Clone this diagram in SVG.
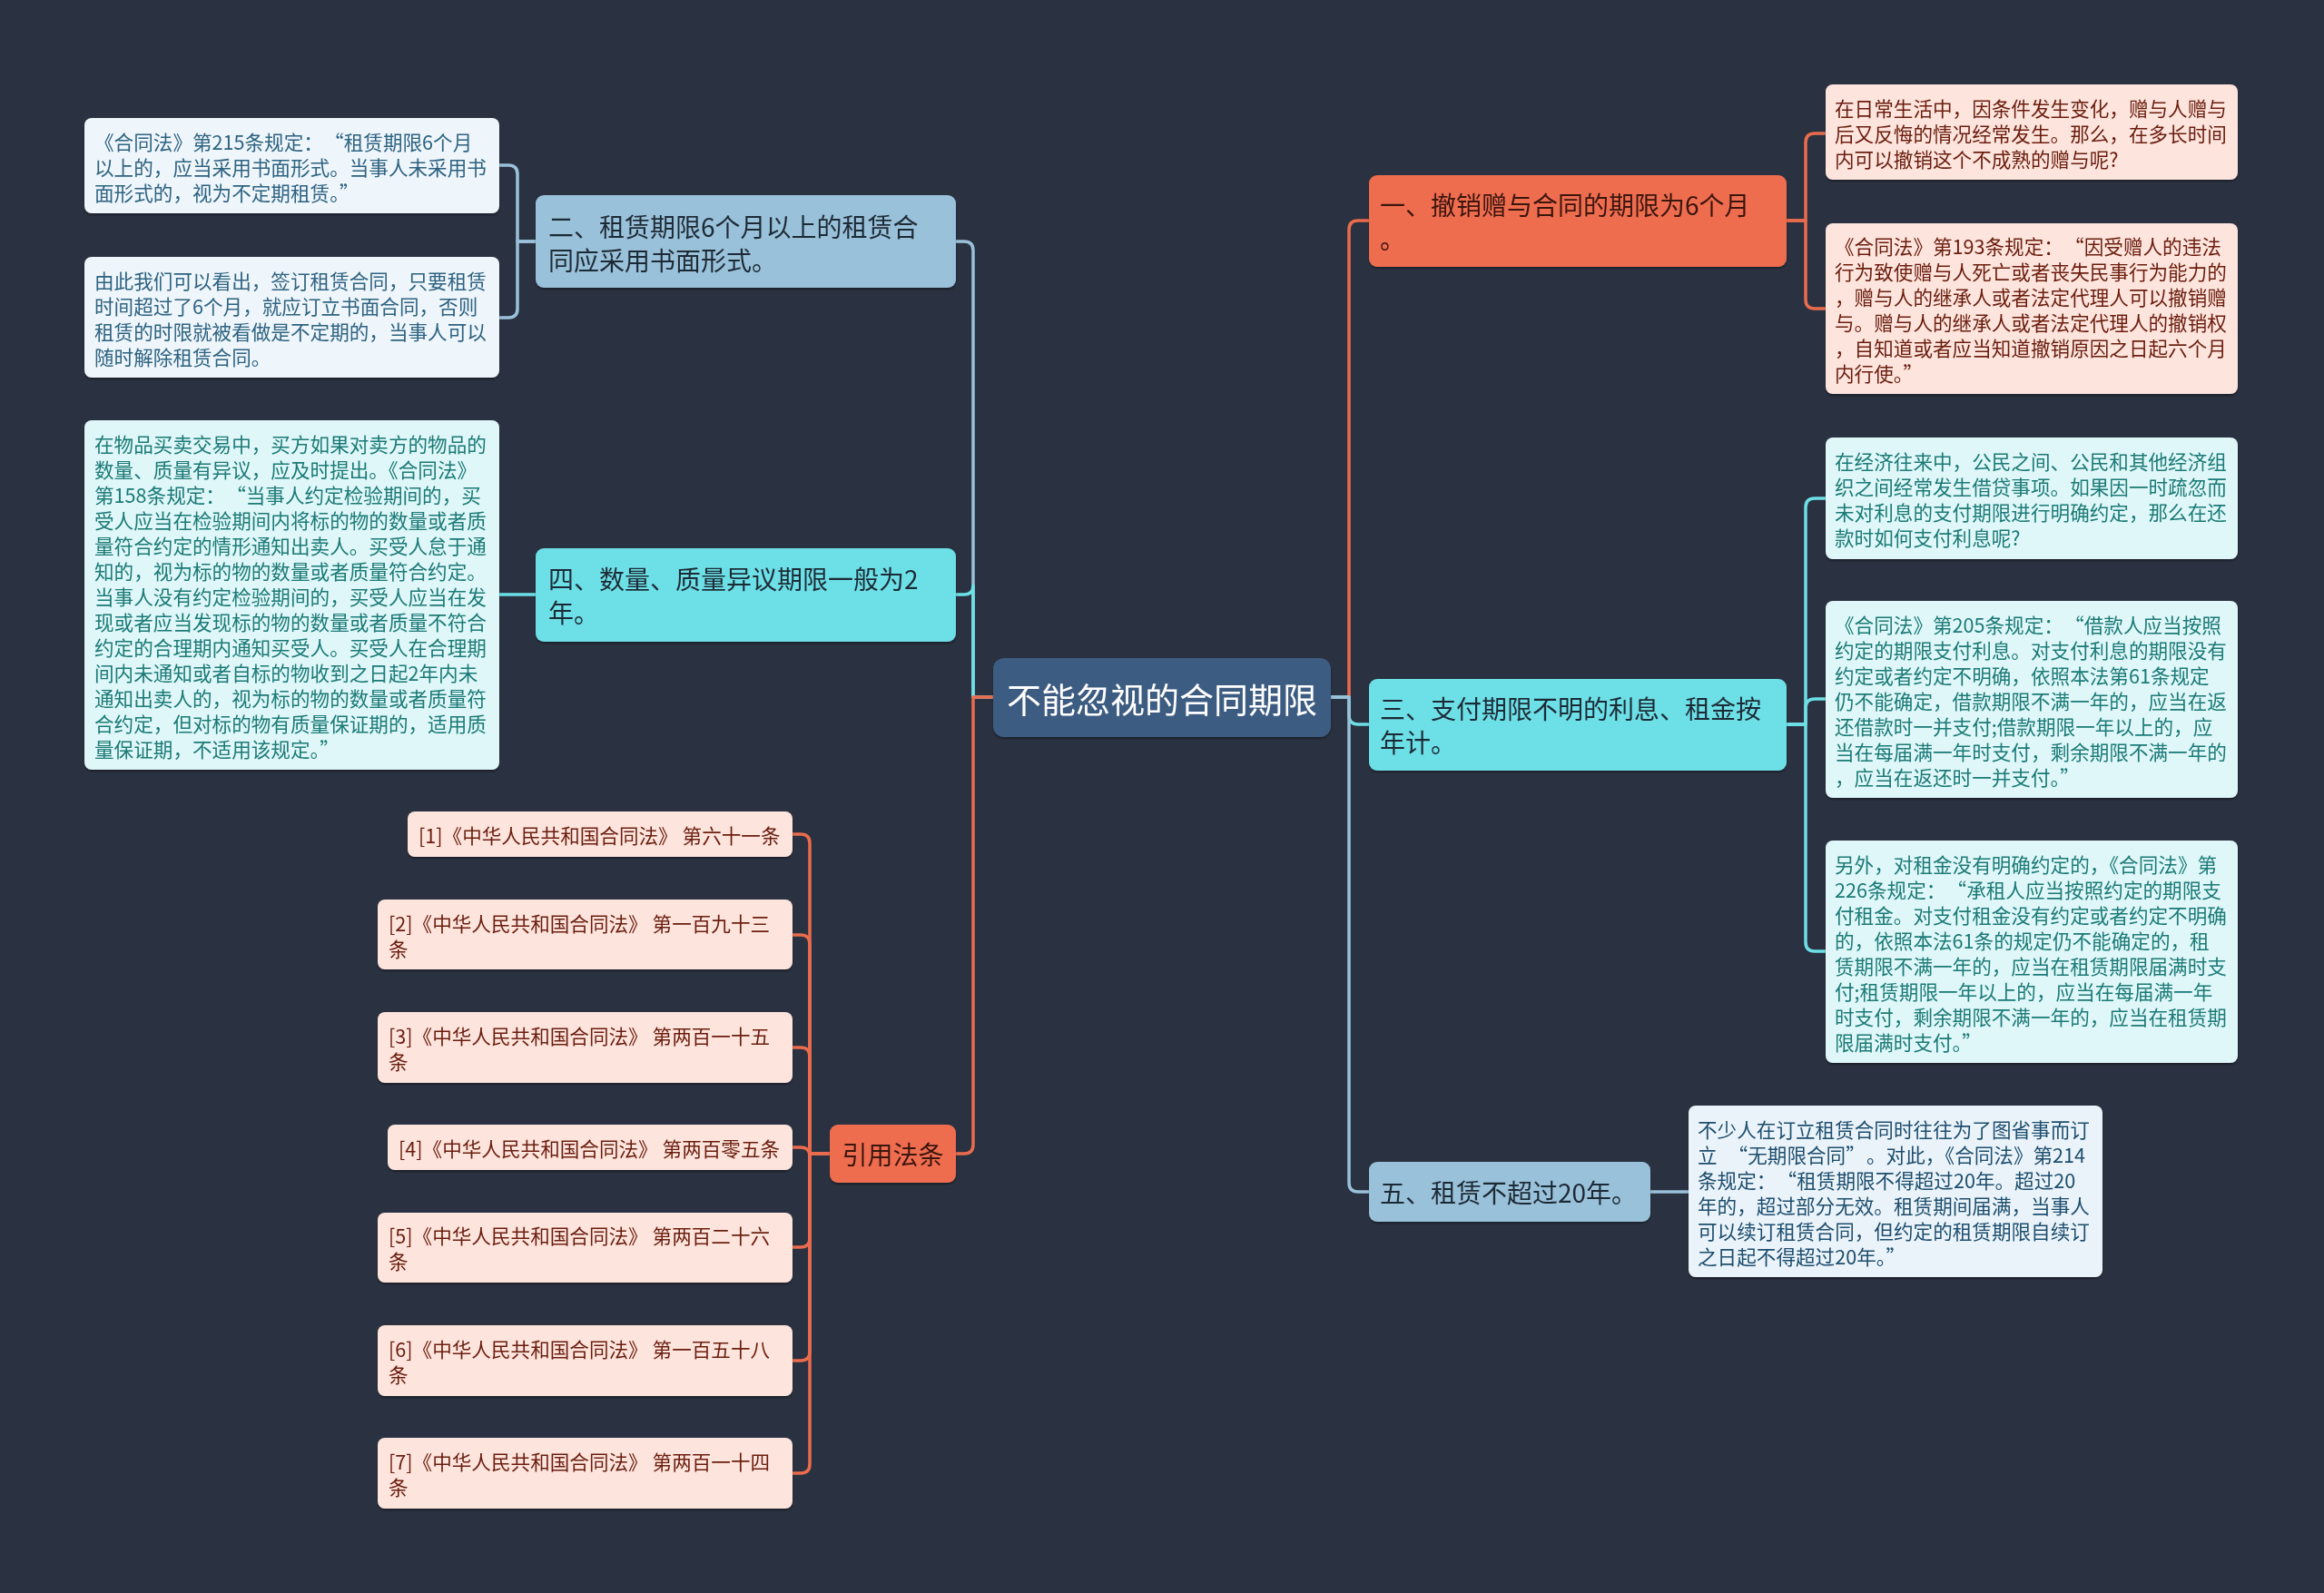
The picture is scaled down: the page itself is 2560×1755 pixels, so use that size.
<svg xmlns="http://www.w3.org/2000/svg" width="2560" height="1755" viewBox="0 0 2560 1755">
<defs>
<filter id="sh" x="-5%" y="-5%" width="110%" height="120%"><feDropShadow dx="0" dy="2" stdDeviation="1" flood-color="#000" flood-opacity="0.35"/></filter>
<style>
text{font-family:"Noto Sans CJK SC","Noto Sans",sans-serif;dominant-baseline:central}
.sm{font-size:21.6px}
.md{font-size:28px}
.lg{font-size:38px;fill:#ffffff}
.c{fill:none;stroke-width:3.5;stroke-linecap:round;stroke-linejoin:round}
.cb{stroke:#9ac1da}.cc{stroke:#6ddfe6}.co{stroke:#ea6b4d}
.fb{fill:#9ac1da}.fc{fill:#6ddfe6}.fo{fill:#ef6d4f}
.lb{fill:#eef5fb}.lc{fill:#dff7f8}.lp{fill:#fde4dd}.li{fill:#eaf3f9}
.tb{fill:#2e6380}.tc{fill:#1b7a77}.tp{fill:#6a1e0e}.ti{fill:#1f4e6e}
.td{fill:#1f2b36}.to{fill:#3b1510}
</style>
</defs>
<rect width="2560" height="1755" fill="#2a3140"/>
<g id="connectors">
<path class="c cb" d="M1094,768 H1072 V276 Q1072,266 1062,266 H1053"/>
<path class="c cc" d="M1094,768 H1072 V645 Q1072,655 1062,655 H1053"/>
<path class="c co" d="M1094,768 H1072 V1261 Q1072,1271 1062,1271 H1053"/>
<path class="c co" d="M1466,768 H1486 V253 Q1486,243 1496,243 H1508"/>
<path class="c cc" d="M1466,768 H1486 V788 Q1486,798 1496,798 H1508"/>
<path class="c cb" d="M1466,768 H1486 V1303 Q1486,1313 1496,1313 H1508"/>
<path class="c cb" d="M590,266 H570 V192 Q570,182 560,182 H550"/>
<path class="c cb" d="M590,266 H570 V340 Q570,350 560,350 H550"/>
<path class="c cc" d="M590,655 H550"/>
<path class="c co" d="M1968,243 H1989 V157 Q1989,147 1999,147 H2011"/>
<path class="c co" d="M1968,243 H1989 V330 Q1989,340 1999,340 H2011"/>
<path class="c cc" d="M1968,798 H1989 V559 Q1989,549 1999,549 H2011"/>
<path class="c cc" d="M1968,798 H1989 V780 Q1989,770 1999,770 H2011"/>
<path class="c cc" d="M1968,798 H1989 V1038 Q1989,1048 1999,1048 H2011"/>
<path class="c cb" d="M1818,1313 H1860"/>
<path class="c co" d="M914,1271 H892 V929 Q892,919 882,919 H873"/>
<path class="c co" d="M914,1271 H892 V1040 Q892,1030 882,1030 H873"/>
<path class="c co" d="M914,1271 H892 V1164 Q892,1154 882,1154 H873"/>
<path class="c co" d="M914,1271 H892 V1274 Q892,1264 882,1264 H873"/>
<path class="c co" d="M914,1271 H892 V1364 Q892,1374 882,1374 H873"/>
<path class="c co" d="M914,1271 H892 V1489 Q892,1499 882,1499 H873"/>
<path class="c co" d="M914,1271 H892 V1613 Q892,1623 882,1623 H873"/>
</g>
<g id="center" filter="url(#sh)">
<rect x="1094" y="725" width="372" height="87" rx="12" fill="#3e5b82"/>
<text class="lg" x="1280" y="768" text-anchor="middle">不能忽视的合同期限</text>
</g>
<g id="n2" filter="url(#sh)">
<rect class="fb" x="590" y="215" width="463" height="102" rx="9"/>
<text class="md td" x="604"><tspan x="604" y="249">二、租赁期限6个月以上的租赁合</tspan><tspan x="604" y="286">同应采用书面形式。</tspan></text>
</g>
<g id="l2a" filter="url(#sh)">
<rect class="lb" x="93" y="130" width="457" height="105" rx="8"/>
<text class="sm tb"><tspan x="104" y="154.5">《合同法》第215条规定：<tspan dx="12">“</tspan>租赁期限6个月</tspan><tspan x="104" y="182.5">以上的，应当采用书面形式。当事人未采用书</tspan><tspan x="104" y="210.5">面形式的，视为不定期租赁。”</tspan></text>
</g>
<g id="l2b" filter="url(#sh)">
<rect class="lb" x="93" y="283" width="457" height="133" rx="8"/>
<text class="sm tb"><tspan x="104" y="307.5">由此我们可以看出，签订租赁合同，只要租赁</tspan><tspan x="104" y="335.5">时间超过了6个月，就应订立书面合同，否则</tspan><tspan x="104" y="363.5">租赁的时限就被看做是不定期的，当事人可以</tspan><tspan x="104" y="391.5">随时解除租赁合同。</tspan></text>
</g>
<g id="n4" filter="url(#sh)">
<rect class="fc" x="590" y="604" width="463" height="103" rx="9"/>
<text class="md td"><tspan x="604" y="637">四、数量、质量异议期限一般为2</tspan><tspan x="604" y="674">年。</tspan></text>
</g>
<g id="l4" filter="url(#sh)">
<rect class="lc" x="93" y="463" width="457" height="385" rx="8"/>
<text class="sm tc"><tspan x="104" y="487.5">在物品买卖交易中，买方如果对卖方的物品的</tspan><tspan x="104" y="515.5">数量、质量有异议，应及时提出。《合同法》</tspan><tspan x="104" y="543.5">第158条规定：<tspan dx="12">“</tspan>当事人约定检验期间的，买</tspan><tspan x="104" y="571.5">受人应当在检验期间内将标的物的数量或者质</tspan><tspan x="104" y="599.5">量符合约定的情形通知出卖人。买受人怠于通</tspan><tspan x="104" y="627.5">知的，视为标的物的数量或者质量符合约定。</tspan><tspan x="104" y="655.5">当事人没有约定检验期间的，买受人应当在发</tspan><tspan x="104" y="683.5">现或者应当发现标的物的数量或者质量不符合</tspan><tspan x="104" y="711.5">约定的合理期内通知买受人。买受人在合理期</tspan><tspan x="104" y="739.5">间内未通知或者自标的物收到之日起2年内未</tspan><tspan x="104" y="767.5">通知出卖人的，视为标的物的数量或者质量符</tspan><tspan x="104" y="795.5">合约定，但对标的物有质量保证期的，适用质</tspan><tspan x="104" y="823.5">量保证期，不适用该规定。”</tspan></text>
</g>
<g id="ref" filter="url(#sh)">
<rect class="fo" x="914" y="1239" width="139" height="64" rx="9"/>
<text class="md to" x="983.5" y="1271" text-anchor="middle">引用法条</text>
</g>
<g id="r1" filter="url(#sh)">
<rect class="lp" x="449" y="894" width="424" height="50" rx="8"/>
<text class="sm tp" x="461" y="919">[1]《中华人民共和国合同法》 第六十一条</text>
</g>
<g id="r2" filter="url(#sh)">
<rect class="lp" x="416" y="991" width="457" height="77" rx="8"/>
<text class="sm tp"><tspan x="428" y="1016">[2]《中华人民共和国合同法》 第一百九十三</tspan><tspan x="428" y="1044">条</tspan></text>
</g>
<g id="r3" filter="url(#sh)">
<rect class="lp" x="416" y="1115" width="457" height="78" rx="8"/>
<text class="sm tp"><tspan x="428" y="1140">[3]《中华人民共和国合同法》 第两百一十五</tspan><tspan x="428" y="1168">条</tspan></text>
</g>
<g id="r4" filter="url(#sh)">
<rect class="lp" x="427" y="1239" width="446" height="50" rx="8"/>
<text class="sm tp" x="439" y="1264">[4]《中华人民共和国合同法》 第两百零五条</text>
</g>
<g id="r5" filter="url(#sh)">
<rect class="lp" x="416" y="1336" width="457" height="77" rx="8"/>
<text class="sm tp"><tspan x="428" y="1360">[5]《中华人民共和国合同法》 第两百二十六</tspan><tspan x="428" y="1388">条</tspan></text>
</g>
<g id="r6" filter="url(#sh)">
<rect class="lp" x="416" y="1460" width="457" height="78" rx="8"/>
<text class="sm tp"><tspan x="428" y="1485">[6]《中华人民共和国合同法》 第一百五十八</tspan><tspan x="428" y="1513">条</tspan></text>
</g>
<g id="r7" filter="url(#sh)">
<rect class="lp" x="416" y="1584" width="457" height="78" rx="8"/>
<text class="sm tp"><tspan x="428" y="1609">[7]《中华人民共和国合同法》 第两百一十四</tspan><tspan x="428" y="1637">条</tspan></text>
</g>
<g id="n1" filter="url(#sh)">
<rect class="fo" x="1508" y="193" width="460" height="101" rx="9"/>
<text class="md to"><tspan x="1520" y="225">一、撤销赠与合同的期限为6个月</tspan><tspan x="1520" y="262">。</tspan></text>
</g>
<g id="l1a" filter="url(#sh)">
<rect class="lp" x="2011" y="93" width="454" height="105" rx="8"/>
<text class="sm tp"><tspan x="2021" y="117.5">在日常生活中，因条件发生变化，赠与人赠与</tspan><tspan x="2021" y="145.5">后又反悔的情况经常发生。那么，在多长时间</tspan><tspan x="2021" y="173.5">内可以撤销这个不成熟的赠与呢?</tspan></text>
</g>
<g id="l1b" filter="url(#sh)">
<rect class="lp" x="2011" y="246" width="454" height="188" rx="8"/>
<text class="sm tp"><tspan x="2021" y="270">《合同法》第193条规定：<tspan dx="12">“</tspan>因受赠人的违法</tspan><tspan x="2021" y="298">行为致使赠与人死亡或者丧失民事行为能力的</tspan><tspan x="2021" y="326">，赠与人的继承人或者法定代理人可以撤销赠</tspan><tspan x="2021" y="354">与。赠与人的继承人或者法定代理人的撤销权</tspan><tspan x="2021" y="382">，自知道或者应当知道撤销原因之日起六个月</tspan><tspan x="2021" y="410">内行使。”</tspan></text>
</g>
<g id="n3" filter="url(#sh)">
<rect class="fc" x="1508" y="748" width="460" height="101" rx="9"/>
<text class="md td"><tspan x="1520" y="780">三、支付期限不明的利息、租金按</tspan><tspan x="1520" y="817">年计。</tspan></text>
</g>
<g id="l3a" filter="url(#sh)">
<rect class="lc" x="2011" y="482" width="454" height="134" rx="8"/>
<text class="sm tc"><tspan x="2021" y="507">在经济往来中，公民之间、公民和其他经济组</tspan><tspan x="2021" y="535">织之间经常发生借贷事项。如果因一时疏忽而</tspan><tspan x="2021" y="563">未对利息的支付期限进行明确约定，那么在还</tspan><tspan x="2021" y="591">款时如何支付利息呢?</tspan></text>
</g>
<g id="l3b" filter="url(#sh)">
<rect class="lc" x="2011" y="662" width="454" height="217" rx="8"/>
<text class="sm tc"><tspan x="2021" y="686.5">《合同法》第205条规定：<tspan dx="12">“</tspan>借款人应当按照</tspan><tspan x="2021" y="714.5">约定的期限支付利息。对支付利息的期限没有</tspan><tspan x="2021" y="742.5">约定或者约定不明确，依照本法第61条规定</tspan><tspan x="2021" y="770.5">仍不能确定，借款期限不满一年的，应当在返</tspan><tspan x="2021" y="798.5">还借款时一并支付;借款期限一年以上的，应</tspan><tspan x="2021" y="826.5">当在每届满一年时支付，剩余期限不满一年的</tspan><tspan x="2021" y="854.5">，应当在返还时一并支付。”</tspan></text>
</g>
<g id="l3c" filter="url(#sh)">
<rect class="lc" x="2011" y="926" width="454" height="245" rx="8"/>
<text class="sm tc"><tspan x="2021" y="950.5">另外，对租金没有明确约定的，《合同法》第</tspan><tspan x="2021" y="978.5">226条规定：<tspan dx="12">“</tspan>承租人应当按照约定的期限支</tspan><tspan x="2021" y="1006.5">付租金。对支付租金没有约定或者约定不明确</tspan><tspan x="2021" y="1034.5">的，依照本法61条的规定仍不能确定的，租</tspan><tspan x="2021" y="1062.5">赁期限不满一年的，应当在租赁期限届满时支</tspan><tspan x="2021" y="1090.5">付;租赁期限一年以上的，应当在每届满一年</tspan><tspan x="2021" y="1118.5">时支付，剩余期限不满一年的，应当在租赁期</tspan><tspan x="2021" y="1146.5">限届满时支付。”</tspan></text>
</g>
<g id="n5" filter="url(#sh)">
<rect class="fb" x="1508" y="1280" width="310" height="66" rx="9"/>
<text class="md td" x="1520" y="1313">五、租赁不超过20年。</text>
</g>
<g id="l5" filter="url(#sh)">
<rect class="li" x="1860" y="1218" width="456" height="189" rx="8"/>
<text class="sm ti"><tspan x="1870" y="1242.5">不少人在订立租赁合同时往往为了图省事而订</tspan><tspan x="1870" y="1270.5">立<tspan dx="12">“</tspan>无期限合同”<tspan dx="12">。对此，《合同法》第214</tspan></tspan><tspan x="1870" y="1298.5">条规定：<tspan dx="12">“</tspan>租赁期限不得超过20年。超过20</tspan><tspan x="1870" y="1326.5">年的，超过部分无效。租赁期间届满，当事人</tspan><tspan x="1870" y="1354.5">可以续订租赁合同，但约定的租赁期限自续订</tspan><tspan x="1870" y="1382.5">之日起不得超过20年。”</tspan></text>
</g>
</svg>
